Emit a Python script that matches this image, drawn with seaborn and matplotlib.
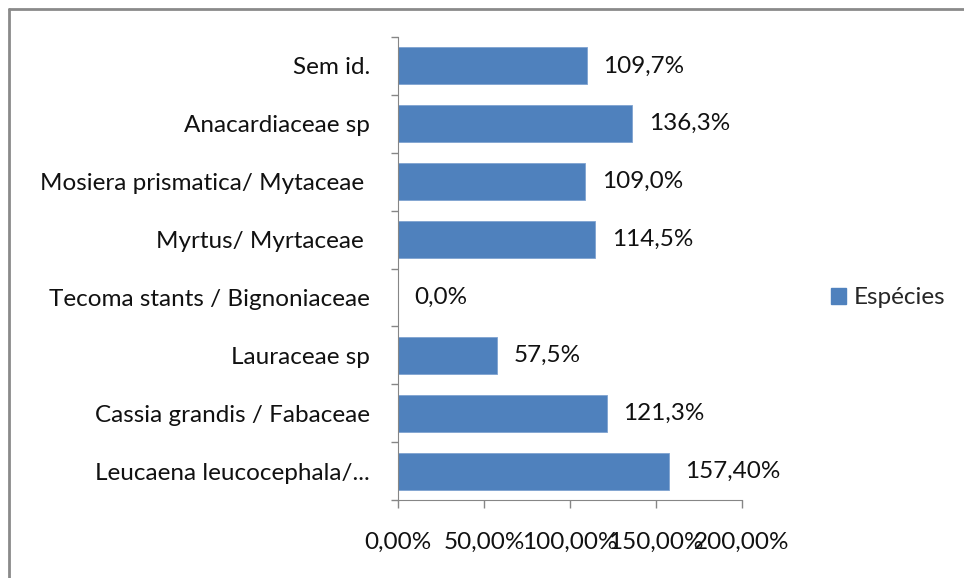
import matplotlib
matplotlib.use("Agg")
import matplotlib.pyplot as plt
import seaborn as sns
import pandas as pd
from matplotlib.lines import Line2D

# data (top to bottom)
species = [
    "Sem id.",
    "Anacardiaceae sp",
    "Mosiera prismatica/ Mytaceae ",
    "Myrtus/ Myrtaceae ",
    "Tecoma stants / Bignoniaceae",
    "Lauraceae sp",
    "Cassia grandis / Fabaceae",
    "Leucaena leucocephala/...",
]
values = [109.7, 136.3, 109.0, 114.5, 0.0, 57.5, 121.3, 157.4]
value_labels = ["109,7%", "136,3%", "109,0%", "114,5%", "0,0%", "57,5%", "121,3%", "157,40%"]
x_ticks = [0, 50, 100, 150, 200]
x_tick_labels = ["0,00%", "50,00%", "100,00%", "150,00%", "200,00%"]

FS = 17.5

sns.set_style("white")
plt.rcParams['font.family'] = ['Lato', 'DejaVu Sans']
plt.rcParams['font.size'] = FS

df = pd.DataFrame({"especie": species, "valor": values})

fig = plt.figure(figsize=(9.64, 5.78), dpi=100)
ax = fig.add_axes([398 / 964, 1 - 500 / 578, (742 - 398) / 964, (500 - 37) / 578])

bar_color = "#4F81BD"
sns.barplot(data=df, x="valor", y="especie", orient="h", color=bar_color,
            saturation=1, width=0.64, ax=ax, edgecolor="#7FA3D1", linewidth=0.6)

ax.set_xlim(0, 200)
ax.set_ylim(len(species) - 0.5, -0.5)
ax.set_xlabel("")
ax.set_ylabel("")

# value labels next to the bars
for i, (v, lab) in enumerate(zip(values, value_labels)):
    ax.annotate(lab, xy=(v, i), xytext=(12, 0), textcoords="offset points",
                va="center", ha="left", fontsize=FS, color="#111111")

# axes styling like the spreadsheet chart
axis_grey = "#868686"
for side in ["top", "right"]:
    ax.spines[side].set_visible(False)
ax.spines["left"].set_color(axis_grey)
ax.spines["bottom"].set_color(axis_grey)

ax.set_xticks(x_ticks)
ax.set_xticklabels(x_tick_labels)
ax.tick_params(axis="x", bottom=True, direction="out", length=6, width=1,
               color=axis_grey, pad=17, labelsize=FS, labelcolor="#111111")
ax.set_yticks(range(len(species)))
ax.set_yticklabels(species)
ax.tick_params(axis="y", which="major", left=False, length=0, pad=20,
               labelsize=FS, labelcolor="#111111")
ax.set_yticks([i - 0.5 for i in range(len(species) + 1)], minor=True)
ax.tick_params(axis="y", which="minor", left=True, direction="out", length=5,
               width=1, color=axis_grey)

# legend on the right
handles = [plt.Rectangle((0, 0), 1, 1, color=bar_color)]
fig.legend(handles, ["Espécies"], loc="center left",
           bbox_to_anchor=(831 / 964, 1 - 298 / 578), frameon=False,
           borderpad=0, borderaxespad=0,
           handlelength=0.6, handleheight=0.6, handletextpad=0.35, fontsize=FS)

# outer chart frame (only top and left edges visible)
frame_kw = dict(color="#8a8a8a", linewidth=2.0, transform=fig.transFigure)
fig.add_artist(Line2D([9 / 964, 1], [1 - 9 / 578, 1 - 9 / 578], **frame_kw))
fig.add_artist(Line2D([9 / 964, 9 / 964], [1 - 9 / 578, 0], **frame_kw))

fig.savefig("out.png", dpi=100)
